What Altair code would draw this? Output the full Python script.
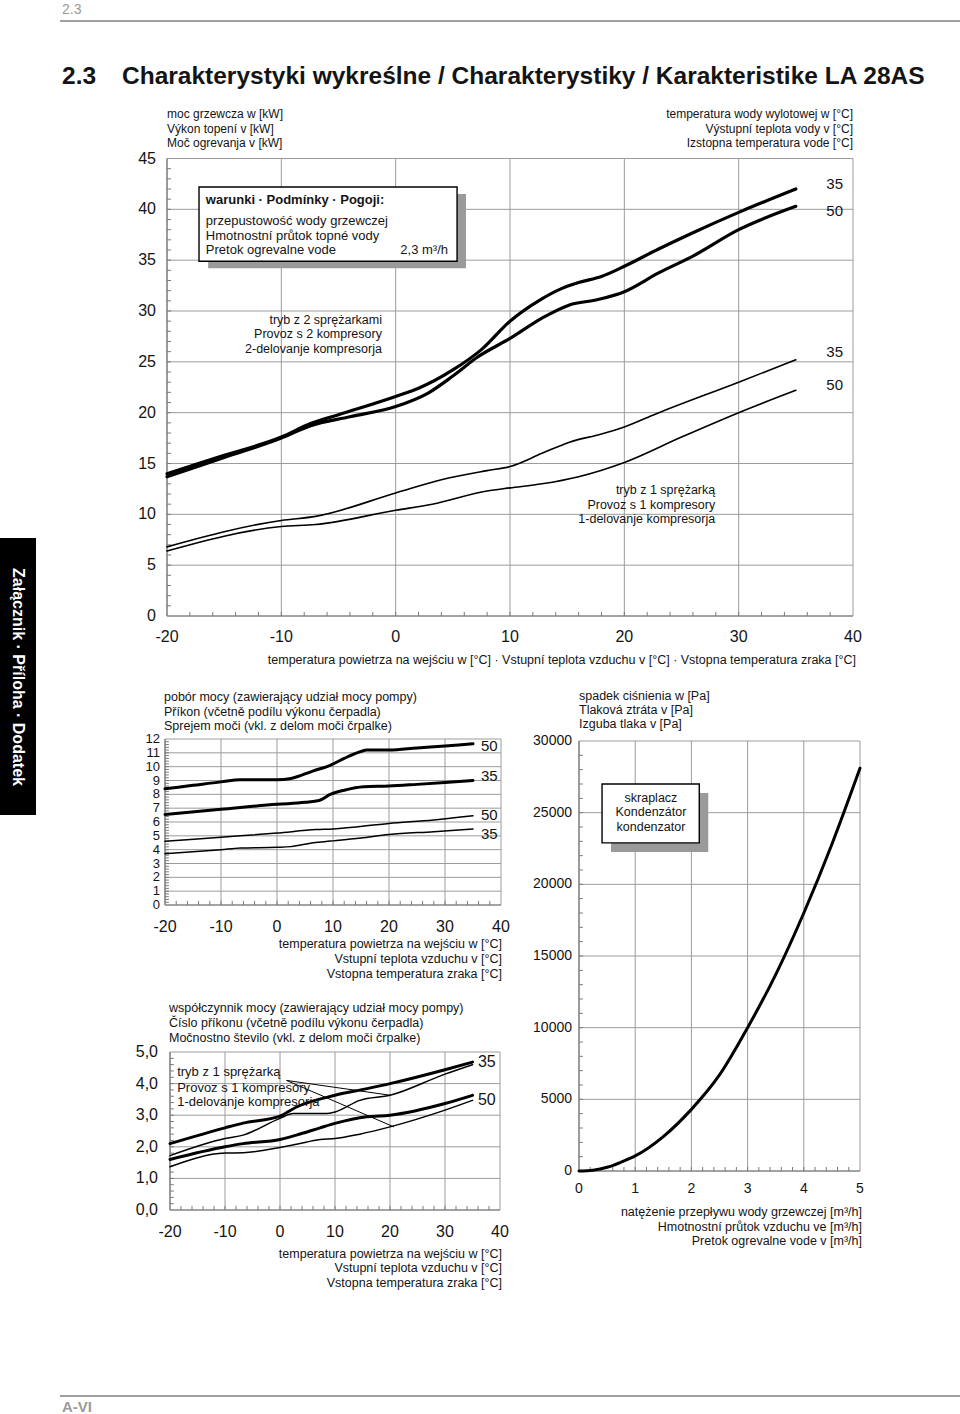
import altair as alt
import pandas as pd

W, H = 960, 1414
FONT = "Liberation Sans, Arial, Helvetica, sans-serif"
GRID = "#9c9c9c"
AXIS = "#7a7a7a"
INK = "#141414"
GREY_TXT = "#9a9a9a"

# ---------------- main chart: heating capacity [kW] vs air temperature [°C]
main_x_ticks = [-20, -10, 0, 10, 20, 30, 40]
main_x_labels = ["-20", "-10", "0", "10", "20", "30", "40"]
main_y_ticks = [0, 5, 10, 15, 20, 25, 30, 35, 40, 45]
main_y_labels = ["0", "5", "10", "15", "20", "25", "30", "35", "40", "45"]

two_comp_35_t = [-20, -15, -10, -7.5, -5, 0, 2, 5, 7.5, 10, 12.5, 14.5, 16, 18, 20, 23, 26, 30, 35]
two_comp_35_kw = [14.0, 15.8, 17.6, 18.9, 19.8, 21.6, 22.4, 24.2, 26.2, 29.0, 31.0, 32.2, 32.8, 33.4, 34.4, 36.1, 37.7, 39.7, 42.0]
two_comp_50_t = [-20, -15, -10, -7.5, -4, 0, 2.8, 5, 7.2, 10, 12.8, 15.2, 17.6, 20, 23, 26, 30, 35]
two_comp_50_kw = [13.7, 15.6, 17.5, 18.7, 19.6, 20.6, 21.9, 23.6, 25.5, 27.3, 29.3, 30.6, 31.1, 31.9, 33.75, 35.4, 38.0, 40.3]
one_comp_35_t = [-20, -10, -7, 0, 4, 8, 10, 12.8, 15.2, 18, 20, 22.8, 30, 35]
one_comp_35_kw = [6.8, 9.4, 9.8, 12.1, 13.4, 14.3, 14.7, 16.0, 17.1, 17.9, 18.6, 19.9, 23.0, 25.2]
one_comp_50_t = [-20, -10, -7, 0, 3.2, 8, 10, 12.8, 16, 20, 25, 30, 35]
one_comp_50_kw = [6.4, 8.8, 9.0, 10.4, 11.0, 12.3, 12.6, 13.0, 13.7, 15.1, 17.6, 20.0, 22.2]
main_end_labels = ["35", "50", "35", "50"]
main_end_label_t = [38.4, 38.4, 38.4, 38.4]
main_end_label_kw = [42.5, 39.8, 26.0, 22.7]

# ---------------- chart 1: power input [kW]
p_x_ticks = [-20, -10, 0, 10, 20, 30, 40]
p_x_labels = ["-20", "-10", "0", "10", "20", "30", "40"]
p_y_ticks = [0, 1, 2, 3, 4, 5, 6, 7, 8, 9, 10, 11, 12]
p_y_labels = ["0", "1", "2", "3", "4", "5", "6", "7", "8", "9", "10", "11", "12"]
p2_50_t = [-20, -15, -10, -6.5, 0, 2.5, 6.5, 9.5, 12, 15, 16, 20, 25, 30, 35]
p2_50_kw = [8.4, 8.65, 8.9, 9.05, 9.05, 9.15, 9.7, 10.1, 10.6, 11.1, 11.2, 11.2, 11.35, 11.5, 11.65]
p2_35_t = [-20, -10, 0, 5, 7.5, 9.5, 12, 15.5, 20, 25, 30, 35]
p2_35_kw = [6.55, 6.92, 7.28, 7.42, 7.55, 7.99, 8.3, 8.55, 8.6, 8.72, 8.85, 9.0]
p1_50_t = [-20, -10, 0, 7, 10, 20, 28, 35]
p1_50_kw = [4.6, 4.9, 5.2, 5.45, 5.5, 5.9, 6.15, 6.45]
p1_35_t = [-20, -10, -6.5, 0, 2.5, 6.5, 9.5, 15, 20, 28, 35]
p1_35_kw = [3.7, 4.0, 4.12, 4.17, 4.22, 4.5, 4.62, 4.85, 5.1, 5.3, 5.5]
p_end_labels = ["50", "35", "50", "35"]
p_end_label_t = [37.9, 37.9, 37.9, 37.9]
p_end_label_kw = [11.5, 9.35, 6.5, 5.15]

# ---------------- chart 2: COP
c_x_ticks = [-20, -10, 0, 10, 20, 30, 40]
c_x_labels = ["-20", "-10", "0", "10", "20", "30", "40"]
c_y_ticks = [0, 1, 2, 3, 4, 5]
c_y_labels = ["0,0", "1,0", "2,0", "3,0", "4,0", "5,0"]
c2_35_t = [-20, -10, -6.7, 0, 3, 10, 15.8, 20, 30, 35]
c2_35_cop = [2.1, 2.6, 2.75, 2.97, 3.26, 3.63, 3.84, 4.0, 4.44, 4.68]
c1_35_t = [-20, -10, -6.7, 0, 2.4, 4.8, 8.5, 10, 14.5, 20, 30, 35]
c1_35_cop = [1.72, 2.26, 2.37, 2.9, 3.05, 3.05, 3.05, 3.1, 3.47, 3.63, 4.3, 4.6]
c2_50_t = [-20, -10, -6.7, 0, 3, 7.3, 10, 15.8, 20, 30, 35]
c2_50_cop = [1.6, 2.0, 2.1, 2.23, 2.37, 2.6, 2.74, 2.95, 3.0, 3.37, 3.63]
c1_50_t = [-20, -10, -6.7, 0, 3, 7.3, 10, 14.5, 20, 30, 35]
c1_50_cop = [1.37, 1.8, 1.81, 1.98, 2.08, 2.23, 2.26, 2.4, 2.63, 3.16, 3.47]
c_end_labels = ["35", "50"]
c_end_label_t = [37.6, 37.6]
c_end_label_cop = [4.68, 3.47]
c_pointer_id = ["a", "a", "b", "b"]
c_pointer_t = [1.2, 20.1, 1.2, 20.7]
c_pointer_cop = [4.1, 3.63, 4.1, 2.63]

# ---------------- chart 3: pressure drop [Pa] vs flow [m3/h]
d_x_ticks = [0, 1, 2, 3, 4, 5]
d_x_labels = ["0", "1", "2", "3", "4", "5"]
d_y_ticks = [0, 5000, 10000, 15000, 20000, 25000, 30000]
d_y_labels = ["0", "5000", "10000", "15000", "20000", "25000", "30000"]
flow = [0, 0.25, 0.5, 0.75, 1, 1.5, 2, 2.5, 3, 3.5, 4, 4.5, 5]
pressure = [0, 60, 260, 620, 1050, 2400, 4300, 6700, 10000, 13700, 18000, 22800, 28100]

one = pd.DataFrame({"k": [0]})


def txt(s, x, y, size=12.5, align="left", weight="normal", color=INK, font=FONT, angle=0):
    return alt.Chart(one).mark_text(
        align=align, baseline="middle", fontSize=size, fontWeight=weight,
        color=color, font=font, angle=angle,
    ).encode(x=alt.value(x), y=alt.value(y), text=alt.value(s))


def frame(xs, ys, xdom, ydom, xgrid, ygrid, xminor, yminor, xlen, ylen,
          xlabels, ylabels, xsize, ysize, xdy, ydx):
    vg = alt.Chart(pd.DataFrame({"v": xgrid})).mark_rule(color=GRID, strokeWidth=1).encode(
        x=alt.X("v:Q", scale=xs, axis=None),
        y=alt.YDatum(ydom[0], scale=ys, axis=None), y2=alt.Y2Datum(ydom[1]))
    hg = alt.Chart(pd.DataFrame({"v": ygrid})).mark_rule(color=GRID, strokeWidth=1).encode(
        y=alt.Y("v:Q", scale=ys, axis=None),
        x=alt.XDatum(xdom[0], scale=xs, axis=None), x2=alt.X2Datum(xdom[1]))
    bx = alt.Chart(one).mark_rule(color=AXIS, strokeWidth=1.2).encode(
        x=alt.XDatum(xdom[0], scale=xs, axis=None), x2=alt.X2Datum(xdom[1]),
        y=alt.YDatum(ydom[0], scale=ys, axis=None))
    by = alt.Chart(one).mark_rule(color=AXIS, strokeWidth=1.2).encode(
        y=alt.YDatum(ydom[0], scale=ys, axis=None), y2=alt.Y2Datum(ydom[1]),
        x=alt.XDatum(xdom[0], scale=xs, axis=None))
    xt = alt.Chart(pd.DataFrame({"v": xminor})).mark_rule(color=AXIS, strokeWidth=1).encode(
        x=alt.X("v:Q", scale=xs, axis=None),
        y=alt.YDatum(ydom[0], scale=ys, axis=None), y2=alt.Y2Datum(ydom[0] + xlen))
    yt = alt.Chart(pd.DataFrame({"v": yminor})).mark_rule(color=AXIS, strokeWidth=1).encode(
        y=alt.Y("v:Q", scale=ys, axis=None),
        x=alt.XDatum(xdom[0], scale=xs, axis=None), x2=alt.X2Datum(xdom[0] + ylen))
    xl = alt.Chart(pd.DataFrame({"v": xgrid, "t": xlabels})).mark_text(
        align="center", baseline="middle", dy=xdy, fontSize=xsize, font=FONT, color=INK).encode(
        x=alt.X("v:Q", scale=xs, axis=None),
        y=alt.YDatum(ydom[0], scale=ys, axis=None), text="t:N")
    yl = alt.Chart(pd.DataFrame({"v": ygrid, "t": ylabels})).mark_text(
        align="right", baseline="middle", dx=ydx, fontSize=ysize, font=FONT, color=INK).encode(
        y=alt.Y("v:Q", scale=ys, axis=None),
        x=alt.XDatum(xdom[0], scale=xs, axis=None), text="t:N")
    return [vg, hg, bx, by, xt, yt, xl, yl]


def curves(xs, ys, series, width):
    rows = []
    for name, xv, yv in series:
        for a, b in zip(xv, yv):
            rows.append({"s": name, "x": a, "y": b})
    return alt.Chart(pd.DataFrame(rows)).mark_line(
        color="#000000", strokeWidth=width, interpolate="monotone", strokeCap="round"
    ).encode(x=alt.X("x:Q", scale=xs, axis=None), y=alt.Y("y:Q", scale=ys, axis=None),
             detail="s:N")


def labels(xs, ys, texts, xv, yv, size, align="center"):
    df = pd.DataFrame({"t": texts, "x": xv, "y": yv})
    return alt.Chart(df).mark_text(align=align, baseline="middle", fontSize=size, font=FONT,
                                   color=INK).encode(
        x=alt.X("x:Q", scale=xs, axis=None), y=alt.Y("y:Q", scale=ys, axis=None), text="t:N")


def rect(xs, ys, x1, x2, y1, y2, **kw):
    return alt.Chart(one).mark_rect(**kw).encode(
        x=alt.XDatum(x1, scale=xs, axis=None), x2=alt.X2Datum(x2),
        y=alt.YDatum(y1, scale=ys, axis=None), y2=alt.Y2Datum(y2))


def note(xs, ys, s, x, y, size=13, align="left", weight="normal"):
    return alt.Chart(one).mark_text(align=align, baseline="middle", fontSize=size, font=FONT,
                                    fontWeight=weight, color=INK).encode(
        x=alt.XDatum(x, scale=xs, axis=None), y=alt.YDatum(y, scale=ys, axis=None),
        text=alt.value(s))


# ================= main chart
mxs = alt.Scale(domain=[-20, 40], range=[167, 853], nice=False, zero=False)
mys = alt.Scale(domain=[0, 45], range=[616, 158.5], nice=False, zero=False)
main_layers = frame(mxs, mys, [-20, 40], [0, 45], main_x_ticks, main_y_ticks,
                    list(range(-18, 40, 2)), list(range(1, 45)), 0.4, 0.35,
                    main_x_labels, main_y_labels, 16, 16, 21, -11)
main_layers += [
    curves(mxs, mys, [("a", two_comp_35_t, two_comp_35_kw), ("b", two_comp_50_t, two_comp_50_kw)], 3.2),
    curves(mxs, mys, [("c", one_comp_35_t, one_comp_35_kw), ("d", one_comp_50_t, one_comp_50_kw)], 1.6),
    labels(mxs, mys, main_end_labels, main_end_label_t, main_end_label_kw, 15),
    note(mxs, mys, "tryb z 2 sprężarkami", -1.2, 29.1, 12.5, "right"),
    note(mxs, mys, "Provoz s 2 kompresory", -1.2, 27.7, 12.5, "right"),
    note(mxs, mys, "2-delovanje kompresorja", -1.2, 26.25, 12.5, "right"),
    note(mxs, mys, "tryb z 1 sprężarką", 27.95, 12.4, 12.5, "right"),
    note(mxs, mys, "Provoz s 1 kompresory", 27.95, 10.95, 12.5, "right"),
    note(mxs, mys, "1-delovanje kompresorja", 27.95, 9.55, 12.5, "right"),
    rect(mxs, mys, -16.4, 6.15, 41.5, 34.2, color="#9a9a9a"),
    rect(mxs, mys, -17.2, 5.37, 42.2, 34.9, fill="white", stroke="#000000", strokeWidth=1.4),
    note(mxs, mys, "warunki · Podmínky · Pogoji:", -16.6, 40.9, 13, "left", "bold"),
    note(mxs, mys, "przepustowość wody grzewczej", -16.6, 38.84, 13),
    note(mxs, mys, "Hmotnostní průtok topné vody", -16.6, 37.36, 13),
    note(mxs, mys, "Pretok ogrevalne vode", -16.6, 36.0, 13),
    note(mxs, mys, "2,3 m³/h", 4.58, 36.0, 13, "right"),
]
main_chart = alt.layer(*main_layers)

# ================= chart 1: power input
pxs = alt.Scale(domain=[-20, 40], range=[165, 501], nice=False, zero=False)
pys = alt.Scale(domain=[0, 12], range=[905, 739], nice=False, zero=False)
p_layers = frame(pxs, pys, [-20, 40], [0, 12], p_x_ticks, p_y_ticks,
                 list(range(-18, 40, 2)), [i / 5 for i in range(1, 60)], 0.3, 0.7,
                 p_x_labels, p_y_labels, 16, 13, 22, -5)
p_layers += [
    curves(pxs, pys, [("a", p2_50_t, p2_50_kw), ("b", p2_35_t, p2_35_kw)], 3.0),
    curves(pxs, pys, [("c", p1_50_t, p1_50_kw), ("d", p1_35_t, p1_35_kw)], 1.5),
    labels(pxs, pys, p_end_labels, p_end_label_t, p_end_label_kw, 15),
]
power_chart = alt.layer(*p_layers)

# ================= chart 2: COP
cxs = alt.Scale(domain=[-20, 40], range=[170, 500], nice=False, zero=False)
cys = alt.Scale(domain=[0, 5], range=[1210, 1052], nice=False, zero=False)
c_layers = frame(cxs, cys, [-20, 40], [0, 5], c_x_ticks, c_y_ticks,
                 list(range(-18, 40, 2)), [i / 5 for i in range(1, 25)], 0.13, 0.7,
                 c_x_labels, c_y_labels, 16, 16, 22, -12)
c_ptr = alt.Chart(pd.DataFrame({"s": c_pointer_id, "x": c_pointer_t, "y": c_pointer_cop})).mark_line(
    color="#000000", strokeWidth=1).encode(
    x=alt.X("x:Q", scale=cxs, axis=None), y=alt.Y("y:Q", scale=cys, axis=None), detail="s:N")
c_layers += [
    curves(cxs, cys, [("a", c2_35_t, c2_35_cop), ("b", c2_50_t, c2_50_cop)], 3.0),
    curves(cxs, cys, [("c", c1_35_t, c1_35_cop), ("d", c1_50_t, c1_50_cop)], 1.5),
    c_ptr,
    labels(cxs, cys, c_end_labels, c_end_label_t, c_end_label_cop, 16),
    note(cxs, cys, "tryb z 1 sprężarką", -18.7, 4.37, 13),
    note(cxs, cys, "Provoz s 1 kompresory", -18.7, 3.86, 13),
    note(cxs, cys, "1-delovanje kompresorja", -18.7, 3.42, 13),
]
cop_chart = alt.layer(*c_layers)

# ================= chart 3: pressure drop
dxs = alt.Scale(domain=[0, 5], range=[579, 860], nice=False, zero=False)
dys = alt.Scale(domain=[0, 30000], range=[1171, 741], nice=False, zero=False)
d_layers = frame(dxs, dys, [0, 5], [0, 30000], d_x_ticks, d_y_ticks,
                 [i / 5 for i in range(1, 25)], list(range(1000, 30000, 1000)), 280, 0.07,
                 d_x_labels, d_y_labels, 14, 14, 18, -7)
d_layers += [
    curves(dxs, dys, [("a", flow, pressure)], 3.0),
    rect(dxs, dys, 0.57, 2.30, 26370, 22260, color="#9a9a9a"),
    rect(dxs, dys, 0.41, 2.14, 27000, 22890, fill="white", stroke="#000000", strokeWidth=1.4),
    note(dxs, dys, "skraplacz", 1.28, 26030, 12.5, "center"),
    note(dxs, dys, "Kondenzátor", 1.28, 25050, 12.5, "center"),
    note(dxs, dys, "kondenzator", 1.28, 24000, 12.5, "center"),
]
dp_chart = alt.layer(*d_layers)

# ================= page decoration and titles
deco = [
    txt("2.3", 62, 10, 14, color=GREY_TXT),
    alt.Chart(one).mark_rule(color="#a0a0a0", strokeWidth=2).encode(
        x=alt.value(60), x2=alt.value(960), y=alt.value(21)),
    txt("2.3", 62, 77, 24.5, weight="bold"),
    txt("Charakterystyki wykreślne / Charakterystiky / Karakteristike LA 28AS", 122, 77, 24.5,
        weight="bold"),
    alt.Chart(one).mark_rect(color="#000000").encode(
        x=alt.value(0), x2=alt.value(36), y=alt.value(538), y2=alt.value(815)),
    txt("Załącznik · Příloha · Dodatek", 18, 677, 16, align="center", weight="bold",
        color="#ffffff", angle=90),
    alt.Chart(one).mark_rule(color="#a0a0a0", strokeWidth=2).encode(
        x=alt.value(60), x2=alt.value(960), y=alt.value(1396)),
    txt("A-VI", 62, 1407, 15, weight="bold", color=GREY_TXT),
    # main chart texts
    txt("moc grzewcza w [kW]", 167, 114, 12),
    txt("Výkon topení v [kW]", 167, 129, 12),
    txt("Moč ogrevanja v [kW]", 167, 143, 12),
    txt("temperatura wody wylotowej w [°C]", 853, 114, 12, align="right"),
    txt("Výstupní teplota vody v [°C]", 853, 129, 12, align="right"),
    txt("Izstopna temperatura vode [°C]", 853, 143, 12, align="right"),
    txt("temperatura powietrza na wejściu w [°C] · Vstupní teplota vzduchu v [°C] · "
        "Vstopna temperatura zraka [°C]", 856, 660, 12.5, align="right"),
    # power chart texts
    txt("pobór mocy (zawierający udział mocy pompy)", 164, 697, 12.5),
    txt("Příkon (včetně podílu výkonu čerpadla)", 164, 712, 12.5),
    txt("Sprejem moči (vkl. z delom moči črpalke)", 164, 726, 12.5),
    txt("temperatura powietrza na wejściu w [°C]", 502, 944, 12.5, align="right"),
    txt("Vstupní teplota vzduchu v [°C]", 502, 959, 12.5, align="right"),
    txt("Vstopna temperatura zraka [°C]", 502, 974, 12.5, align="right"),
    # cop chart texts
    txt("współczynnik mocy (zawierający udział mocy pompy)", 169, 1008, 12.5),
    txt("Číslo příkonu (včetně podílu výkonu čerpadla)", 169, 1023, 12.5),
    txt("Močnostno število (vkl. z delom moči črpalke)", 169, 1038, 12.5),
    txt("temperatura powietrza na wejściu w [°C]", 502, 1254, 12.5, align="right"),
    txt("Vstupní teplota vzduchu v [°C]", 502, 1268, 12.5, align="right"),
    txt("Vstopna temperatura zraka [°C]", 502, 1283, 12.5, align="right"),
    # pressure chart texts
    txt("spadek ciśnienia w [Pa]", 579, 696, 12.5),
    txt("Tlaková ztráta v [Pa]", 579, 710, 12.5),
    txt("Izguba tlaka v [Pa]", 579, 724, 12.5),
    txt("natężenie przepływu wody grzewczej [m³/h]", 862, 1212, 12.5, align="right"),
    txt("Hmotnostní průtok vzduchu ve [m³/h]", 862, 1227, 12.5, align="right"),
    txt("Pretok ogrevalne vode v [m³/h]", 862, 1241, 12.5, align="right"),
]

chart = alt.layer(main_chart, power_chart, cop_chart, dp_chart, *deco).resolve_scale(
    x="independent", y="independent"
).properties(
    width=W, height=H, autosize=alt.AutoSizeParams(type="none"), padding=0,
    background="white",
).configure_view(strokeWidth=0)

chart.save("out.html", embed_options={"renderer": "svg", "actions": False})
